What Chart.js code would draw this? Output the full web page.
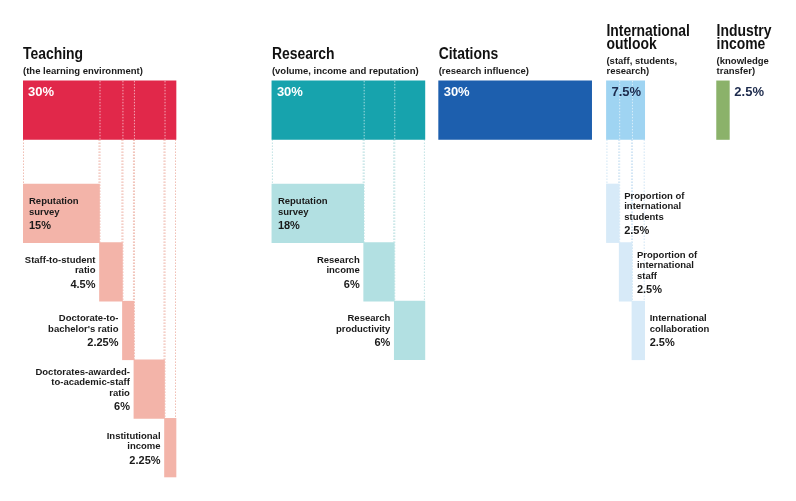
<!DOCTYPE html>
<html><head><meta charset="utf-8">
<script src="https://cdn.jsdelivr.net/npm/chart.js@4/dist/chart.umd.min.js"></script>
<style>html,body{margin:0;padding:0;background:#fff}#wrap{width:796px;height:501px;position:relative}</style>
</head><body><div id="wrap"><canvas id="c" width="796" height="501"></canvas></div>
<script>
// ---------------- data ----------------
const pillars = ['Teaching', 'Research', 'Citations', 'International\noutlook', 'Industry\nincome'];
const pillarSubtitles = ['(the learning environment)', '(volume, income and reputation)', '(research influence)', '(staff, students,\nresearch)', '(knowledge\ntransfer)'];
const pillarWeights = [30, 30, 30, 7.5, 2.5];

const teachingMetrics = ['Reputation\nsurvey', 'Staff-to-student\nratio', "Doctorate-to-\nbachelor's ratio", 'Doctorates-awarded-\nto-academic-staff\nratio', 'Institutional\nincome'];
const teachingWeights = [15, 4.5, 2.25, 6, 2.25];

const researchMetrics = ['Reputation\nsurvey', 'Research\nincome', 'Research\nproductivity'];
const researchWeights = [18, 6, 6];

const internationalMetrics = ['Proportion of\ninternational\nstudents', 'Proportion of\ninternational\nstaff', 'International\ncollaboration'];
const internationalWeights = [2.5, 2.5, 2.5];

// ---------------- layout / style ----------------
const subMetrics = [teachingMetrics, researchMetrics, [], internationalMetrics, []];
const subWeights = [teachingWeights, researchWeights, [], internationalWeights, []];
const pillarGaps = [18.8, 2.7, 2.9, 14.1];           // horizontal spacing between pillars (weight units)
const topColors = ['#e1284a', '#17a3ad', '#1d5fae', '#9fd4f2', '#8bb26a'];
const subColors = ['#f3b4a9', '#b2e0e2', '#1d5fae', '#d7eaf8', '#8bb26a'];
const ghostColors = ['#f0bdb3', '#bfe2e3', null, '#cfe4f4', null];
const topLabelColors = ['#ffffff', '#ffffff', '#ffffff', '#1c2a4c', '#1c2a4c'];
const subLabelSide = ['left', 'left', null, 'right', null];
const TOP_ROW = -1.26;   // centre of the headline bar row (sub rows are 0..n)

const offsets = [];
let acc = 0;
pillarWeights.forEach((w, i) => { offsets.push(acc); acc += w + (pillarGaps[i] || 0); });

const datasets = pillars.map((name, p) => {
  const data = [{ x: [offsets[p], offsets[p] + pillarWeights[p]], y: TOP_ROW }];
  const colors = [topColors[p]];
  let cum = offsets[p];
  subWeights[p].forEach((v, i) => {
    data.push({ x: [cum, cum + v], y: i + 0.5 });
    colors.push(subColors[p]);
    cum += v;
  });
  return { label: name.replace('\n', ' '), data, backgroundColor: colors, borderWidth: 0 };
});

function txt(ctx, s, x, y, font, color, align, sx) {
  ctx.save();
  ctx.font = font; ctx.fillStyle = color; ctx.textBaseline = 'alphabetic';
  ctx.translate(x, y); ctx.scale(sx || 1, 1);
  ctx.textAlign = align || 'left';
  ctx.fillText(s, 0, 0);
  ctx.restore();
}
function measure(ctx, s, font) { ctx.save(); ctx.font = font; const w = ctx.measureText(s).width; ctx.restore(); return w; }

const FAM = '"Liberation Sans", Arial, sans-serif';
const HEAD_FONT = 'bold 16px ' + FAM;
const SUBT_FONT = 'bold 9.5px ' + FAM;
const LBL_FONT = 'bold 9.5px ' + FAM;
const PCT_FONT = 'bold 11px ' + FAM;
const TOP_PCT_FONT = 'bold 13px ' + FAM;
const ink = '#1a1a1a';

const decorPlugin = {
  id: 'decor',
  beforeDatasetsDraw(chart) {
    const ctx = chart.ctx;
    pillars.forEach((_, p) => {
      if (!ghostColors[p]) return;
      const meta = chart.getDatasetMeta(p);
      const top = meta.data[0];
      const topBottom = top.y + top.height / 2;
      ctx.save();
      ctx.strokeStyle = ghostColors[p]; ctx.lineWidth = 1; ctx.setLineDash([1.5, 1.5]);
      meta.data.slice(1).forEach(el => {
        const l = Math.min(el.base, el.x), r = Math.max(el.base, el.x);
        const st = el.y - el.height / 2;
        [l + 0.5, r - 0.5].forEach(xx => {
          ctx.beginPath(); ctx.moveTo(xx, topBottom); ctx.lineTo(xx, st); ctx.stroke();
        });
      });
      ctx.restore();
    });
  },
  afterDatasetsDraw(chart) {
    const ctx = chart.ctx;
    pillars.forEach((name, p) => {
      const meta = chart.getDatasetMeta(p);
      const top = meta.data[0];
      const tl = Math.min(top.base, top.x), tr = Math.max(top.base, top.x);
      const tTop = top.y - top.height / 2, tBot = top.y + top.height / 2;
      // white dotted dividers in headline bar
      ctx.save();
      ctx.strokeStyle = 'rgba(255,255,255,0.6)'; ctx.lineWidth = 1; ctx.setLineDash([1.5, 1.5]);
      meta.data.slice(2).forEach(el => {
        const xx = Math.min(el.base, el.x) + 0.5;
        ctx.beginPath(); ctx.moveTo(xx, tTop); ctx.lineTo(xx, tBot); ctx.stroke();
      });
      ctx.restore();
      // headline percent
      const pct = pillarWeights[p] + '%';
      const pw = measure(ctx, pct, TOP_PCT_FONT);
      if (pw + 6 < tr - tl) txt(ctx, pct, tl + 5, tTop + 15.5, TOP_PCT_FONT, topLabelColors[p], 'left');
      else txt(ctx, pct, tr + 5, tTop + 15.5, TOP_PCT_FONT, topLabelColors[p], 'left');
      // headings
      const sLines = pillarSubtitles[p].split('\n');
      const hLines = name.split('\n');
      let base = tTop - 6.5 - (sLines.length - 1) * 10;
      sLines.forEach((s, i) => txt(ctx, s, tl, base + i * 10, SUBT_FONT, ink, 'left'));
      const hBase = base - 15 - (hLines.length - 1) * 13.5;
      hLines.forEach((s, i) => txt(ctx, s, tl, hBase + i * 13.5, HEAD_FONT, '#111', 'left', 0.87));
      // sub metric labels
      meta.data.slice(1).forEach((el, k) => {
        const l = Math.min(el.base, el.x), r = Math.max(el.base, el.x);
        const lines = subMetrics[p][k].split('\n');
        const pctS = subWeights[p][k] + '%';
        const maxW = Math.max(...lines.map(s => measure(ctx, s, LBL_FONT)));
        let x, align;
        if (maxW + 12 < r - l) { x = l + 6; align = 'left'; }
        else if (subLabelSide[p] === 'left') { x = l - 4; align = 'right'; }
        else { x = r + 5; align = 'left'; }
        const blockH = 6.8 + (lines.length - 1) * 10.5 + 14.5;
        const first = el.y - blockH / 2 + 6.8;
        lines.forEach((s, i) => txt(ctx, s, x, first + i * 10.5, LBL_FONT, ink, align));
        txt(ctx, pctS, x, first + (lines.length - 1) * 10.5 + 14.5, PCT_FONT, ink, align);
      });
    });
  }
};

new Chart(document.getElementById('c'), {
  type: 'bar',
  data: { datasets },
  options: {
    indexAxis: 'y',
    responsive: false,
    animation: false,
    devicePixelRatio: 1,
    layout: { padding: { left: 23, right: 8, top: 0, bottom: 0 } },
    plugins: { legend: { display: false }, tooltip: { enabled: false } },
    datasets: { bar: { grouped: false, barPercentage: 1, categoryPercentage: 1, borderWidth: 0 } },
    scales: {
      x: { type: 'linear', min: 0, max: 150, display: false, grid: { display: false } },
      y: { type: 'linear', min: -3.14, max: 5.41, reverse: true, display: false,
           afterBuildTicks: s => { s.ticks = []; } }
    }
  },
  plugins: [decorPlugin]
});
</script>
</body></html>
